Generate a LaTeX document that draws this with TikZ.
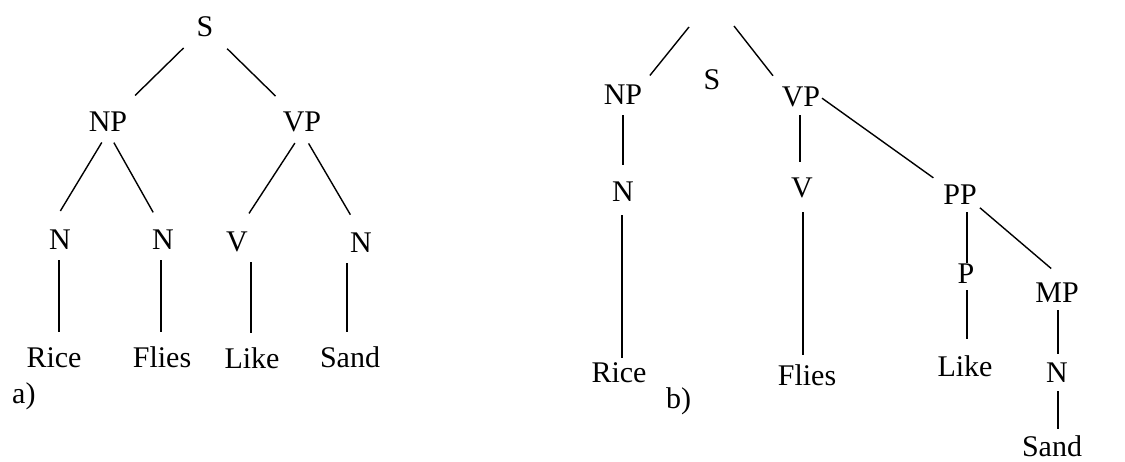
\documentclass[tikz,border=0pt]{standalone}
\usepackage{fontspec}
\setmainfont{Liberation Serif}
\usetikzlibrary{calc}
\begin{document}
\begin{tikzpicture}[x=1pt,y=-1pt,
  lbl/.style={font=\fontsize{30}{36}\selectfont, inner sep=0pt, text height=20pt, text depth=0pt},
  partlabel/.style={font=\fontsize{30}{36}\selectfont, inner sep=0pt, anchor=base west},
  edge/.style={line width=1.4pt},
  vline/.style={edge, shorten <=10pt, shorten >=16pt}]
\useasboundingbox (0,0) rectangle (1125,462);
% ---------- a) ----------
\node[lbl] (aS) at (205,27) {S};
\node[lbl] (aNP) at (108,122) {NP};
\node[lbl] (aVP) at (302,122) {VP};
\node[lbl] (aN1) at (60,240) {N};
\node[lbl] (aN2) at (163,240) {N};
\node[lbl] (aV) at (237,242) {V};
\node[lbl] (aN4) at (361,243) {N};
\node[lbl] (aRice) at (54,358) {Rice};
\node[lbl] (aFlies) at (162,358) {Flies};
\node[lbl] (aLike) at (252,359) {Like};
\node[lbl] (aSand) at (350,358) {Sand};
\node[partlabel] (alab) at (12,403) {a)};
\draw[edge, shorten <=30pt, shorten >=38pt] (aS.center) -- (aNP.center);
\draw[edge, shorten <=31pt, shorten >=37pt] (aS.center) -- (aVP.center);
\draw[edge, shorten <=12pt, shorten >=22pt] (aNP.south) -- (aN1.north west);
\draw[edge, shorten <=12pt, shorten >=20pt] (aNP.south) -- (aN2.north);
\draw[edge, shorten <=13pt, shorten >=22pt] (aVP.south) -- (aV.north);
\draw[edge, shorten <=13pt, shorten >=21pt] (aVP.south) -- (aN4.north);
\draw[vline] ([xshift=-1pt]aN1.south) -- ([xshift=-1pt]aN1.south |- aRice.north);
\draw[vline] ([xshift=-2pt]aN2.south) -- ([xshift=-2pt]aN2.south |- aFlies.north);
\draw[vline] ([xshift=-1pt]aLike.north |- aV.south) -- ([xshift=-1pt]aLike.north);
\draw[vline] ([xshift=-3pt]aSand.north |- aN4.south) -- ([xshift=-3pt]aSand.north);
% ---------- b) ----------
\coordinate (bL) at (689,27);
\coordinate (bR) at (734,26);
\node[lbl] (bS) at (712,80) {S};
\node[lbl] (bNP) at (623,95) {NP};
\node[lbl] (bVP) at (801,97) {VP};
\node[lbl] (bN1) at (623,192) {N};
\node[lbl] (bV) at (802,188) {V};
\node[lbl] (bPP) at (960,195) {PP};
\node[lbl] (bP) at (966,274) {P};
\node[lbl] (bMP) at (1057,293) {MP};
\node[lbl] (bN2) at (1057,372) {N};
\node[lbl] (bRice) at (619,373) {Rice};
\node[lbl] (bFlies) at (807,375) {Flies};
\node[lbl] (bLike) at (965,367) {Like};
\node[lbl] (bSand) at (1052,446) {Sand};
\node[partlabel] (blab) at (666,409) {b)};
\draw[edge, shorten >=12pt] (bL) -- (bNP.north east);
\draw[edge, shorten >=14pt] (bR) -- (bVP.north west);
\draw[edge, shorten <=10pt, shorten >=17pt] (bNP.south) -- (bN1.north);
\draw[edge, shorten <=13pt, shorten >=5pt] ([xshift=-1pt]bN1.south) -- ([xshift=-1pt]bN1.south |- bRice.north);
\draw[edge, shorten <=8pt, shorten >=16pt] ([xshift=-1pt]bVP.south) -- ([xshift=-1pt]bVP.south |- bV.north);
\draw[edge, shorten <=14pt, shorten >=10pt] ([xshift=1pt]bV.south) -- ([xshift=1pt]bV.south |- bFlies.north);
\draw[edge, shorten <=2pt, shorten >=12pt] (bVP.east) -- (bPP.north west);
\draw[edge, shorten <=7pt, shorten >=1pt] ([xshift=1pt]bP.north |- bPP.south) -- ([xshift=1pt]bP.north);
\draw[edge, shorten <=6pt, shorten >=18pt] ([xshift=1pt]bP.south) -- ([xshift=1pt]bP.south |- bLike.north);
\draw[edge, shorten <=4pt, shorten >=22pt] (bPP.south east) -- ($(bMP.north)!.5!(bMP.north east)$);
\draw[edge, shorten <=7pt, shorten >=8pt] ([xshift=1pt]bMP.south) -- ([xshift=1pt]bMP.south |- bN2.north);
\draw[edge, shorten <=9pt, shorten >=7pt] ([xshift=1pt]bN2.south) -- ([xshift=1pt]bN2.south |- bSand.north);
\end{tikzpicture}
\end{document}
